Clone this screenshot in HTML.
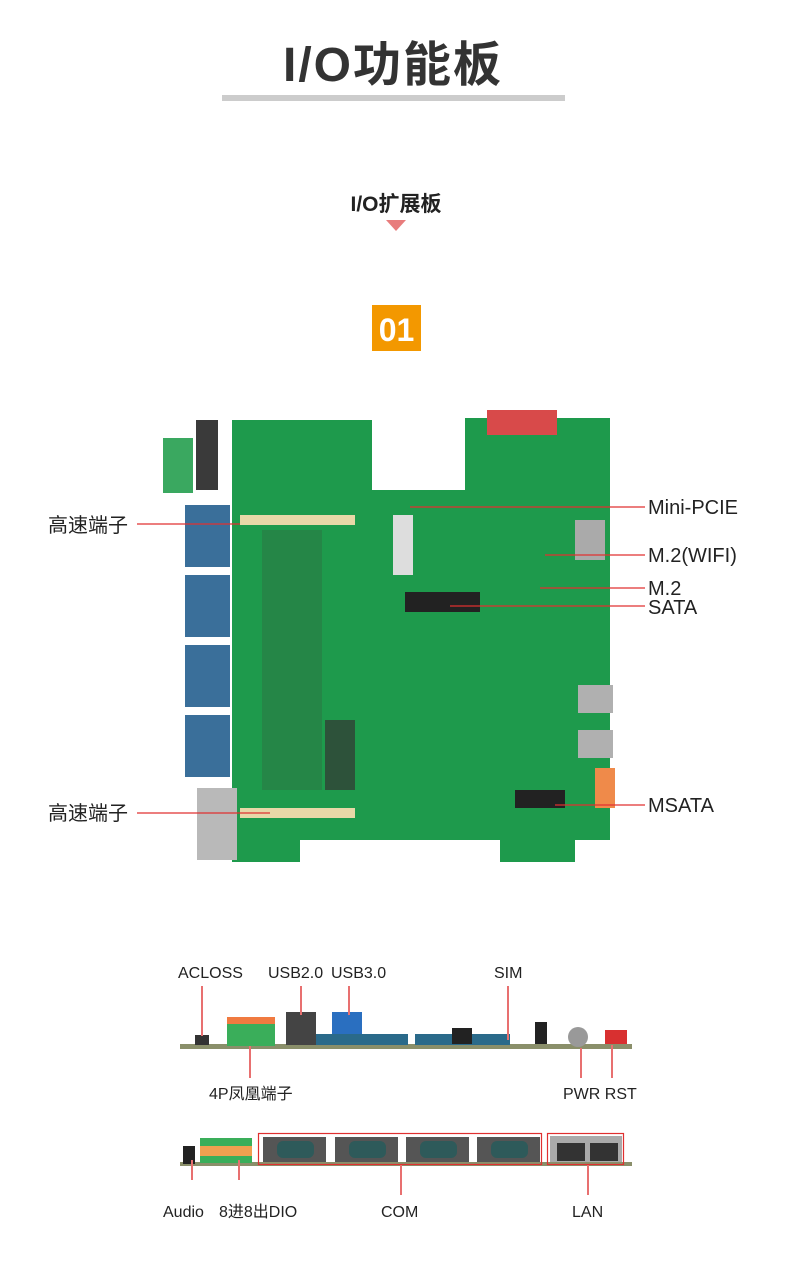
<!DOCTYPE html>
<html><head><meta charset="utf-8"><style>
html,body{margin:0;padding:0;background:#fff}
body{width:790px;height:1266px;overflow:hidden}
svg text{font-family:"Liberation Sans","Noto Sans CJK SC",sans-serif}
</style></head><body>
<svg width="790" height="1266" viewBox="0 0 790 1266" xmlns="http://www.w3.org/2000/svg">
<text x="393" y="81" text-anchor="middle" font-size="48" font-weight="bold" fill="#333" letter-spacing="2">I/O功能板</text>
<rect x="222" y="95" width="343" height="6" fill="#ccc"/>
<text x="396" y="211" text-anchor="middle" font-size="21" font-weight="bold" fill="#222">I/O扩展板</text>
<polygon points="386,220 406,220 396,231" fill="#e87c7c"/>
<rect x="372" y="305" width="49" height="46" fill="#f39800"/>
<text x="396.5" y="341" text-anchor="middle" font-size="32" font-weight="bold" fill="#fff">01</text>

<path d="M232,420 L372,420 L372,490 L465,490 L465,418 L610,418 L610,840 L575,840 L575,862 L500,862 L500,840 L300,840 L300,862 L232,862 Z" fill="#1e9a4c"/>
<rect x="163" y="438" width="30" height="55" fill="#3aa860"/>
<rect x="196" y="420" width="22" height="70" fill="#3a3a3a"/>
<rect x="487" y="410" width="70" height="25" fill="#d84a4a"/>
<g fill="#3a6f9a"><rect x="185" y="505" width="45" height="62"/><rect x="185" y="575" width="45" height="62"/><rect x="185" y="645" width="45" height="62"/><rect x="185" y="715" width="45" height="62"/></g>
<rect x="197" y="788" width="40" height="72" fill="#b9b9b9"/>
<rect x="240" y="515" width="115" height="10" fill="#e8d8a8"/>
<rect x="240" y="808" width="115" height="10" fill="#e8d8a8"/>
<rect x="575" y="520" width="30" height="40" fill="#aaa"/>
<rect x="578" y="685" width="35" height="28" fill="#b0b0b0"/>
<rect x="578" y="730" width="35" height="28" fill="#b0b0b0"/>
<rect x="595" y="768" width="20" height="40" fill="#ef8a4a"/>
<rect x="405" y="592" width="75" height="20" fill="#222"/>
<rect x="515" y="790" width="50" height="18" fill="#222"/>
<rect x="393" y="515" width="20" height="60" fill="#ddd"/>
<rect x="262" y="530" width="60" height="260" fill="#2a7a45" opacity="0.6"/>
<rect x="325" y="720" width="30" height="70" fill="#333" opacity="0.7"/>

<g stroke="#e03030" stroke-width="1.2">
<line x1="137" y1="524" x2="240" y2="524"/>
<line x1="137" y1="813" x2="270" y2="813"/>
<line x1="410" y1="507" x2="645" y2="507"/>
<line x1="545" y1="555" x2="645" y2="555"/>
<line x1="540" y1="588" x2="645" y2="588"/>
<line x1="450" y1="606" x2="645" y2="606"/>
<line x1="555" y1="805" x2="645" y2="805"/>
</g>
<g font-size="20" fill="#222">
<text x="48" y="532">高速端子</text>
<text x="48" y="820">高速端子</text>
<text x="648" y="514">Mini-PCIE</text>
<text x="648" y="562">M.2(WIFI)</text>
<text x="648" y="595">M.2</text>
<text x="648" y="614">SATA</text>
<text x="648" y="812">MSATA</text>
</g>

<rect x="180" y="1044" width="452" height="5" fill="#8a8f6a"/>
<rect x="195" y="1035" width="14" height="10" fill="#333"/>
<rect x="227" y="1017" width="48" height="8" fill="#f07a40"/>
<rect x="227" y="1024" width="48" height="22" fill="#3aae5a"/>
<rect x="286" y="1012" width="30" height="33" fill="#444"/>
<rect x="332" y="1012" width="30" height="33" fill="#2a6fc0"/>
<rect x="316" y="1034" width="92" height="11" fill="#2a6a8a"/>
<rect x="415" y="1034" width="95" height="11" fill="#2a6a8a"/>
<rect x="452" y="1028" width="20" height="16" fill="#222"/>
<rect x="535" y="1022" width="12" height="22" fill="#222"/>
<circle cx="578" cy="1037" r="10" fill="#999"/>
<rect x="605" y="1030" width="22" height="14" fill="#d83030"/>
<g stroke="#e87070" stroke-width="2">
<line x1="202" y1="986" x2="202" y2="1036"/>
<line x1="301" y1="986" x2="301" y2="1015"/>
<line x1="349" y1="986" x2="349" y2="1015"/>
<line x1="508" y1="986" x2="508" y2="1040"/>
<line x1="250" y1="1046" x2="250" y2="1078"/>
<line x1="581" y1="1048" x2="581" y2="1078"/>
<line x1="612" y1="1045" x2="612" y2="1078"/>
</g>
<g font-size="16" fill="#222">
<text x="178" y="978">ACLOSS</text>
<text x="268" y="978">USB2.0</text>
<text x="331" y="978">USB3.0</text>
<text x="494" y="978">SIM</text>
<text x="209" y="1099">4P凤凰端子</text>
<text x="563" y="1099">PWR RST</text>
</g>

<rect x="180" y="1162" width="452" height="4" fill="#8a8f6a"/>
<rect x="183" y="1146" width="12" height="18" fill="#222"/>
<rect x="200" y="1138" width="52" height="25" fill="#3aae5a"/>
<rect x="200" y="1146" width="52" height="10" fill="#f0a050"/>
<g fill="#555"><rect x="263" y="1137" width="63" height="25"/><rect x="335" y="1137" width="63" height="25"/><rect x="406" y="1137" width="63" height="25"/><rect x="477" y="1137" width="63" height="25"/></g>
<g fill="#2e5a5a"><rect x="277" y="1141" width="37" height="17" rx="6"/><rect x="349" y="1141" width="37" height="17" rx="6"/><rect x="420" y="1141" width="37" height="17" rx="6"/><rect x="491" y="1141" width="37" height="17" rx="6"/></g>
<rect x="550" y="1136" width="72" height="26" fill="#aaa"/>
<rect x="557" y="1143" width="28" height="18" fill="#333"/><rect x="590" y="1143" width="28" height="18" fill="#333"/>
<rect x="258.5" y="1133.5" width="283" height="31" fill="none" stroke="#e03030" stroke-width="1.2"/>
<rect x="547.5" y="1133.5" width="76" height="31" fill="none" stroke="#e03030" stroke-width="1.2"/>
<g stroke="#e87070" stroke-width="2">
<line x1="192" y1="1160" x2="192" y2="1180"/>
<line x1="239" y1="1160" x2="239" y2="1180"/>
<line x1="401" y1="1165" x2="401" y2="1195"/>
<line x1="588" y1="1165" x2="588" y2="1195"/>
</g>
<g font-size="16" fill="#222">
<text x="163" y="1217">Audio</text>
<text x="219" y="1217">8进8出DIO</text>
<text x="381" y="1217">COM</text>
<text x="572" y="1217">LAN</text>
</g>
</svg>
</body></html>
